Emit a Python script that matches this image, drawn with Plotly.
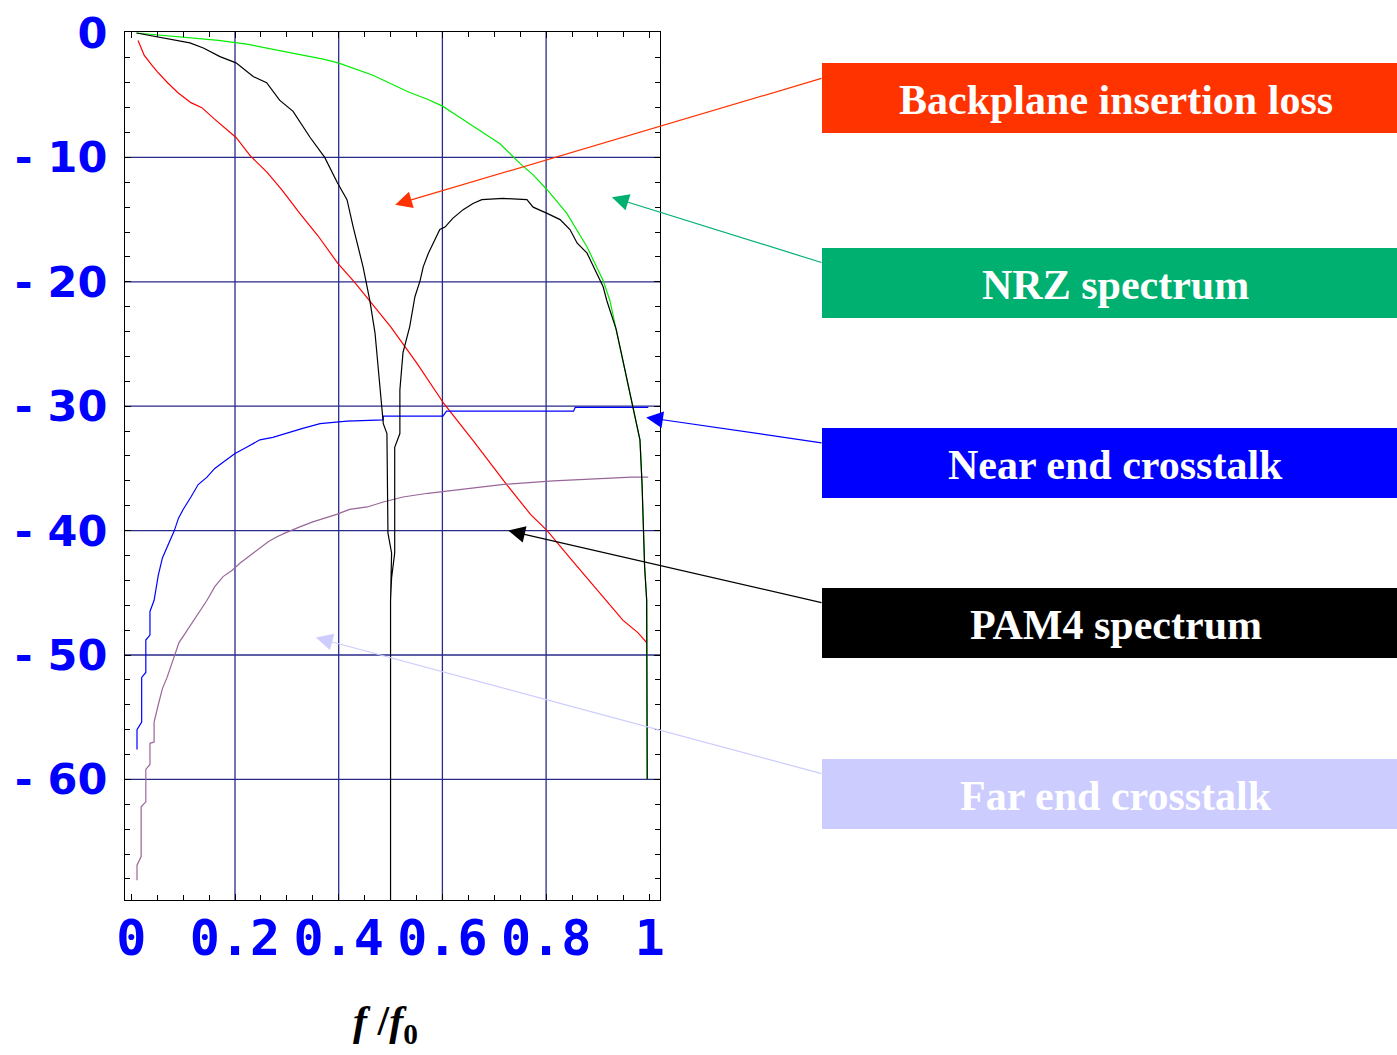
import plotly.graph_objects as go

# ---------------- data ----------------
loss_x = [0.013, 0.025, 0.040, 0.050, 0.070, 0.090, 0.115, 0.136, 0.160, 0.180, 0.202, 0.230,
          0.262, 0.290, 0.325, 0.360, 0.398, 0.430, 0.455, 0.500, 0.550, 0.603, 0.660, 0.724,
          0.770, 0.802, 0.850, 0.910, 0.948, 0.977, 0.994]
loss_y = [-0.6, -1.8, -2.6, -3.1, -4.0, -4.8, -5.6, -6.0, -6.9, -7.6, -8.4, -9.9,
          -11.2, -12.6, -14.5, -16.3, -18.5, -20.0, -21.3, -23.6, -26.5, -29.8, -32.8, -36.3,
          -38.7, -40.0, -42.4, -45.3, -47.2, -48.2, -49.0]

nrz_x = [0.010, 0.060, 0.120, 0.168, 0.223, 0.274, 0.325, 0.370, 0.399, 0.466, 0.512, 0.538,
         0.570, 0.601, 0.630, 0.659, 0.690, 0.711, 0.750, 0.775, 0.802, 0.840, 0.879, 0.910,
         0.923, 0.935, 0.948, 0.968, 0.981, 0.985, 0.990, 0.994, 0.995]
nrz_y = [0.0, -0.2, -0.4, -0.6, -0.9, -1.3, -1.7, -2.1, -2.4, -3.4, -4.3, -4.8,
         -5.3, -5.9, -6.7, -7.5, -8.3, -8.9, -10.5, -11.4, -12.6, -14.5, -17.2, -19.9,
         -21.5, -23.8, -26.3, -30.1, -32.7, -36.2, -42.9, -45.6, -60.0]

pam4_x = [0.010, 0.036, 0.081, 0.113, 0.139, 0.171, 0.202, 0.235, 0.261, 0.286, 0.312, 0.345,
          0.373, 0.397, 0.416, 0.428, 0.447, 0.460, 0.470, 0.476, 0.486, 0.493, 0.495, 0.502,
          0.500, 0.500, 0.500, 0.502, 0.508, 0.508, 0.518, 0.518, 0.524, 0.537, 0.547, 0.557,
          0.563, 0.573, 0.586, 0.595, 0.605, 0.620, 0.640, 0.659, 0.676, 0.717, 0.763, 0.775,
          0.802, 0.827, 0.846, 0.860, 0.879, 0.891, 0.901, 0.910, 0.917, 0.935, 0.948, 0.968,
          0.981, 0.985, 0.990, 0.994, 0.995]
pam4_y = [0.0, -0.2, -0.6, -0.8, -1.2, -1.9, -2.4, -3.5, -4.0, -5.4, -6.3, -8.4,
          -10.0, -12.0, -13.4, -15.6, -18.8, -21.5, -24.1, -27.1, -31.4, -32.2, -40.2, -41.8,
          -45.6, -75.0, -45.6, -43.8, -41.8, -33.3, -32.2, -28.7, -25.7, -23.6, -21.2, -19.9,
          -18.8, -17.7, -16.6, -15.8, -15.6, -14.9, -14.2, -13.7, -13.4, -13.3, -13.4, -14.0,
          -14.5, -15.0, -15.8, -16.9, -17.7, -18.8, -19.7, -20.4, -21.5, -23.8, -26.3, -30.1,
          -32.7, -36.2, -42.9, -45.6, -60.0]

next_x = [0.011, 0.011, 0.020, 0.020, 0.028, 0.028, 0.036, 0.036, 0.044, 0.052, 0.060, 0.069,
          0.083, 0.091, 0.100, 0.115, 0.129, 0.146, 0.161, 0.177, 0.200, 0.218, 0.248, 0.273,
          0.296, 0.329, 0.364, 0.416, 0.486, 0.486, 0.601, 0.608, 0.853, 0.856, 0.997]
next_y = [-57.6, -56.0, -55.4, -51.8, -51.4, -48.8, -48.4, -46.5, -45.6, -43.6, -42.2, -41.3,
          -40.0, -39.0, -38.3, -37.3, -36.3, -35.7, -35.0, -34.5, -33.8, -33.4, -32.7, -32.5,
          -32.2, -31.8, -31.4, -31.2, -31.1, -30.8, -30.8, -30.4, -30.4, -30.1, -30.1]

fext_x = [0.011, 0.011, 0.019, 0.019, 0.028, 0.028, 0.036, 0.036, 0.044, 0.044, 0.052, 0.060,
          0.069, 0.077, 0.084, 0.092, 0.100, 0.108, 0.117, 0.132, 0.146, 0.161, 0.177, 0.194,
          0.210, 0.229, 0.242, 0.264, 0.281, 0.296, 0.325, 0.350, 0.373, 0.396, 0.421, 0.455,
          0.486, 0.524, 0.572, 0.634, 0.714, 0.814, 0.965, 0.997]
fext_y = [-68.1, -66.9, -66.2, -62.2, -61.8, -59.2, -58.8, -57.1, -57.0, -55.4, -54.0, -52.7,
          -51.8, -50.8, -50.0, -49.0, -48.5, -48.0, -47.4, -46.4, -45.6, -44.5, -43.7, -43.2,
          -42.6, -42.0, -41.6, -40.9, -40.5, -40.2, -39.7, -39.3, -39.0, -38.7, -38.3, -38.1,
          -37.7, -37.3, -37.0, -36.7, -36.3, -36.0, -35.7, -35.7]

x_tickvals = [0, 0.2, 0.4, 0.6, 0.8, 1]
x_ticktext = ["0", "0.2", "0.4", "0.6", "0.8", "1"]
y_tickvals = [0, -10, -20, -30, -40, -50, -60]
y_ticktext = ["0", "- 10", "- 20", "- 30", "- 40", "- 50", "- 60"]
x_grid = [0.2, 0.4, 0.6, 0.8]
y_grid = [-10, -20, -30, -40, -50, -60]

labels = ["Backplane insertion loss", "NRZ spectrum", "Near end crosstalk",
          "PAM4 spectrum", "Far end crosstalk"]
label_colors = ["#ff3300", "#00b070", "#0000ff", "#000000", "#ccccff"]
# arrow heads (data coords) of each callout
arrow_head_x = [0.509, 0.927, 0.993, 0.727, 0.356]
arrow_head_y = [-13.8, -13.2, -30.9, -40.0, -48.6]

# ---------------- layout geometry (pixels) ----------------
W, H = 1397, 1055
PL, PR, PT, PB = 125, 660, 32, 900
box_tops = [63, 248, 428, 588, 759]
box_h = 70
box_left = 822
box_right = 1397


def xp(px):
    return (px - PL) / (PR - PL)


def yp(py):
    return (PB - py) / (PB - PT)


fig = go.Figure()

series = [
    (loss_x, loss_y, "#ff0000"),
    (nrz_x, nrz_y, "#00ee00"),
    (fext_x, fext_y, "#996699"),
    (next_x, next_y, "#0000ff"),
    (pam4_x, pam4_y, "#000000"),
]
for xs, ys, c in series:
    fig.add_trace(go.Scatter(x=xs, y=ys, mode="lines",
                             line=dict(color=c, width=1.2), hoverinfo="skip"))

shapes = []
for g in x_grid:
    shapes.append(dict(type="line", xref="x", yref="paper", x0=g, x1=g, y0=0, y1=1,
                       line=dict(color="#2a2a8a", width=1.3), layer="below"))
for g in y_grid:
    shapes.append(dict(type="line", xref="paper", yref="y", x0=0, x1=1, y0=g, y1=g,
                       line=dict(color="#2a2a8a", width=1.3), layer="below"))

annotations = []
for i, (lab, col) in enumerate(zip(labels, label_colors)):
    top = box_tops[i]
    shapes.append(dict(type="rect", xref="paper", yref="paper",
                       x0=xp(box_left), x1=xp(box_right), y0=yp(top + box_h), y1=yp(top),
                       fillcolor=col, line=dict(width=0), layer="above"))
    annotations.append(dict(xref="paper", yref="paper",
                            x=xp((box_left + box_right) / 2 + 6), y=yp(top + box_h / 2 + 2),
                            text=lab, showarrow=False, xanchor="center", yanchor="middle",
                            font=dict(family="Liberation Serif", size=42, color="white",
                                      weight="bold")))
    # arrow from box to curve
    tail_px = box_left + 1
    tail_py = top + 15
    head_px = 131.3 + arrow_head_x[i] * 518.5
    head_py = 33 - arrow_head_y[i] * 12.44
    annotations.append(dict(xref="x", yref="y", x=arrow_head_x[i], y=arrow_head_y[i],
                            ax=tail_px - head_px, ay=tail_py - head_py,
                            text="", showarrow=True, arrowhead=2, arrowsize=2.8,
                            arrowwidth=1.2, arrowcolor=col, standoff=0))

annotations.append(dict(xref="paper", yref="paper", x=xp(385), y=yp(1052),
                        text="<i>f</i> /<i>f</i><sub>0</sub>", showarrow=False,
                        xanchor="center", yanchor="bottom",
                        font=dict(family="Liberation Serif", size=42, color="black",
                                  weight="bold")))

x_range = [(PL - 131.3) / 518.5, (PR - 131.3) / 518.5]
y_range = [-(PB - 33) / 12.44, -(PT - 33) / 12.44]

fig.update_layout(
    width=W, height=H, autosize=False,
    margin=dict(l=PL, r=W - PR, t=PT, b=H - PB, pad=0),
    plot_bgcolor="white", paper_bgcolor="white",
    showlegend=False,
    shapes=shapes, annotations=annotations,
    xaxis=dict(range=x_range, showgrid=False, zeroline=False,
               showline=True, linecolor="black", linewidth=1.2, mirror="ticks",
               ticks="inside", ticklen=6, tickcolor="black", tickwidth=1,
               tickvals=x_tickvals, ticktext=x_ticktext, automargin=False,
               ticklabelstandoff=-6,
               tickfont=dict(family="DejaVu Sans Mono", size=50, color="#0000ff",
                             weight="bold"),
               minor=dict(dtick=0.05, tick0=0, ticks="inside", ticklen=5,
                          tickcolor="black", showgrid=False)),
    yaxis=dict(range=y_range, showgrid=False, zeroline=False,
               showline=True, linecolor="black", linewidth=1.2, mirror="ticks",
               ticks="inside", ticklen=6, tickcolor="black", tickwidth=1,
               tickvals=y_tickvals, ticktext=y_ticktext, automargin=False,
               ticklabelstandoff=8,
               tickfont=dict(family="DejaVu Sans", size=43, color="#0000ff",
                             weight="bold"),
               minor=dict(dtick=2, tick0=0, ticks="inside", ticklen=5,
                          tickcolor="black", showgrid=False)),
)

fig.write_html("out.html")
